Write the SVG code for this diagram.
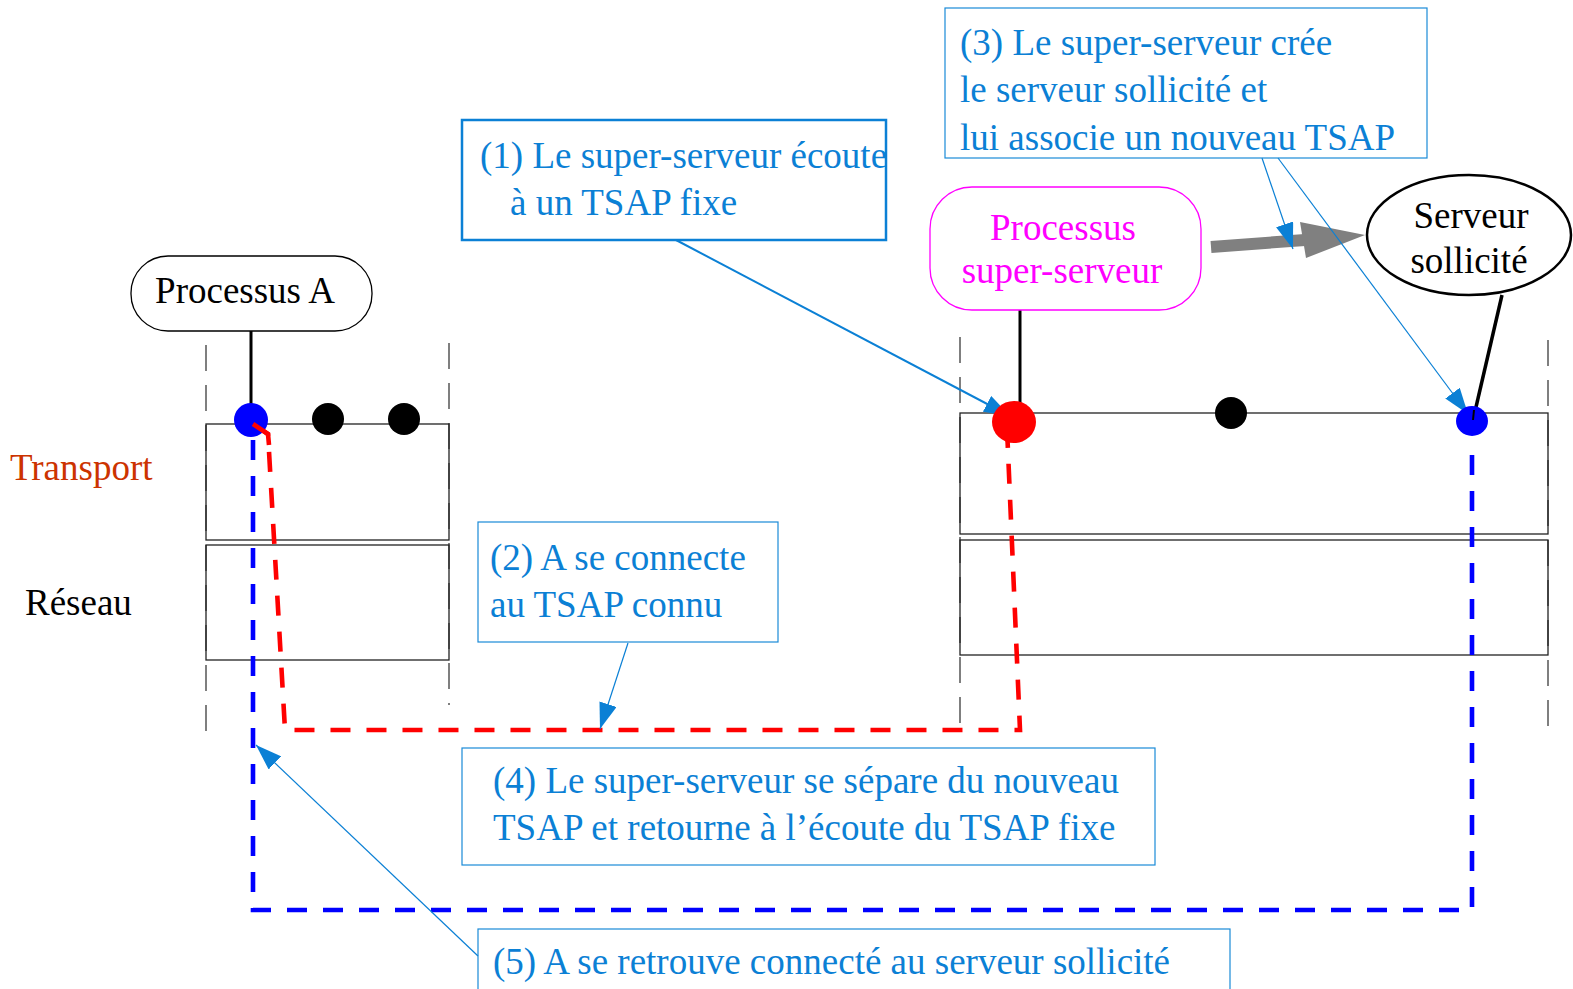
<svg xmlns="http://www.w3.org/2000/svg" width="1573" height="989" viewBox="0 0 1573 989">
<defs>
<style>
text{font-family:"Liberation Serif","Times New Roman",serif;font-size:37px}
.blue{fill:#0b80d5}
.callout{fill:none;stroke:#1a8ad8;stroke-width:1.2}
.layer{fill:none;stroke:#222;stroke-width:1.3}
.sep{stroke:#555;stroke-width:1.5;stroke-dasharray:26 14;fill:none}
.lead{stroke:#0b80d5;fill:none}
</style>
<marker id="ah" viewBox="0 0 26 18" refX="26" refY="9" markerWidth="26" markerHeight="18" orient="auto" markerUnits="userSpaceOnUse">
<path d="M0,0 L26,9 L0,18 z" fill="#0b80d5"/>
</marker>
</defs>
<rect width="1573" height="989" fill="#fff"/>

<!-- layer labels -->
<text x="10" y="480" fill="#cc3300">Transport</text>
<text x="25" y="615" fill="#000">Réseau</text>

<!-- left stack -->
<g id="left-stack">
<line class="sep" x1="206" y1="345" x2="206" y2="740"/>
<line class="sep" x1="449" y1="343" x2="449" y2="705"/>
<rect class="layer" x="206" y="424" width="243" height="116"/>
<rect class="layer" x="206" y="545" width="243" height="115"/>
</g>

<!-- right stack -->
<g id="right-stack">
<line class="sep" x1="960" y1="337" x2="960" y2="730"/>
<line class="sep" x1="1548" y1="340" x2="1548" y2="730"/>
<rect class="layer" x="960" y="413" width="588" height="121"/>
<rect class="layer" x="960" y="540" width="588" height="115"/>
</g>

<!-- connectors -->
<g id="connectors">
<line x1="251" y1="331" x2="251" y2="418" stroke="#000" stroke-width="3"/>
<line x1="1020" y1="310" x2="1020" y2="410" stroke="#000" stroke-width="3"/>
<line x1="1502" y1="295" x2="1473" y2="420" stroke="#000" stroke-width="3.5"/>
<!-- gray creation arrow -->
<line x1="1211" y1="247" x2="1305" y2="240" stroke="#808080" stroke-width="12"/>
<polygon points="1300,222 1365,235 1306,258" fill="#808080"/>
<!-- red dashed path -->
<path d="M253,424 L268,434 L285,730 L1020,730 L1007,428" fill="none" stroke="#ff0000" stroke-width="4.6" stroke-dasharray="20 16"/>
<!-- blue dashed path -->
<path d="M253,440 L253,910 L1472,910 L1472,440" fill="none" stroke="#0000ff" stroke-width="4.6" stroke-dasharray="20 16"/>
<!-- callout leaders -->
<line class="lead" x1="676" y1="240" x2="1010" y2="416" stroke-width="2" marker-end="url(#ah)"/>
<line class="lead" x1="1262" y1="158" x2="1293" y2="249" stroke-width="1.2" marker-end="url(#ah)"/>
<line class="lead" x1="1278" y1="158" x2="1468" y2="414" stroke-width="1.2" marker-end="url(#ah)"/>
<line class="lead" x1="628" y1="643" x2="600" y2="729" stroke-width="1.2" marker-end="url(#ah)"/>
<line class="lead" x1="478" y1="956" x2="256" y2="745" stroke-width="1.2" marker-end="url(#ah)"/>
</g>

<!-- TSAP dots -->
<g id="tsap-a">
<circle cx="251" cy="420" r="17" fill="#0000ff"/>
<circle cx="328" cy="419" r="16" fill="#000"/>
<circle cx="404" cy="419" r="16" fill="#000"/>
</g>
<g id="tsap-server">
<ellipse cx="1014" cy="422" rx="22" ry="21" fill="#ff0000"/>
<circle cx="1231" cy="413" r="16" fill="#000"/>
<ellipse cx="1472" cy="421" rx="16" ry="15" fill="#0000ff"/>
</g>
<!-- redraw red start segment over blue dot -->
<path d="M253,424 L268,434 L269,445" fill="none" stroke="#ff0000" stroke-width="4.6"/>
<line x1="1474" y1="410" x2="1473" y2="420" stroke="#000" stroke-width="2"/>

<!-- nodes -->
<g id="processus-a">
<rect x="131" y="256" width="241" height="75" rx="37" fill="#fff" stroke="#000" stroke-width="1.3"/>
<text x="245" y="303" text-anchor="middle" fill="#000">Processus A</text>
</g>

<g id="super-serveur">
<rect x="930" y="187" width="271" height="123" rx="42" fill="#fff" stroke="#ff00ff" stroke-width="1.3"/>
<text x="1063" y="240" text-anchor="middle" fill="#ff00ff">Processus</text>
<text x="1062" y="283" text-anchor="middle" fill="#ff00ff">super-serveur</text>
</g>

<g id="serveur-sollicite">
<ellipse cx="1469" cy="235" rx="102" ry="60" fill="#fff" stroke="#000" stroke-width="2.5"/>
<text x="1471" y="228" text-anchor="middle" fill="#000">Serveur</text>
<text x="1469" y="273" text-anchor="middle" fill="#000">sollicité</text>
</g>

<g id="callout-1">
<rect x="462" y="120" width="424" height="120" fill="none" stroke="#0b80d5" stroke-width="2.5"/>
<text class="blue" x="480" y="168">(1) Le super-serveur écoute</text>
<text class="blue" x="510" y="215">à un TSAP fixe</text>
</g>

<g id="callout-2">
<rect class="callout" x="478" y="522" width="300" height="120"/>
<text class="blue" x="490" y="570">(2) A se connecte</text>
<text class="blue" x="490" y="617">au TSAP connu</text>
</g>

<g id="callout-3">
<rect class="callout" x="945" y="8" width="482" height="150"/>
<text class="blue" x="960" y="55">(3) Le super-serveur crée</text>
<text class="blue" x="960" y="102">le serveur sollicité et</text>
<text class="blue" x="960" y="150">lui associe un nouveau TSAP</text>
</g>

<g id="callout-4">
<rect class="callout" x="462" y="748" width="693" height="117" fill="#fff"/>
<text class="blue" x="493" y="793">(4) Le super-serveur se sépare du nouveau</text>
<text class="blue" x="493" y="840">TSAP et retourne à l’écoute du TSAP fixe</text>
</g>

<g id="callout-5">
<rect class="callout" x="478" y="929" width="752" height="75"/>
<text class="blue" x="493" y="974">(5) A se retrouve connecté au serveur sollicité</text>
</g>
</svg>
